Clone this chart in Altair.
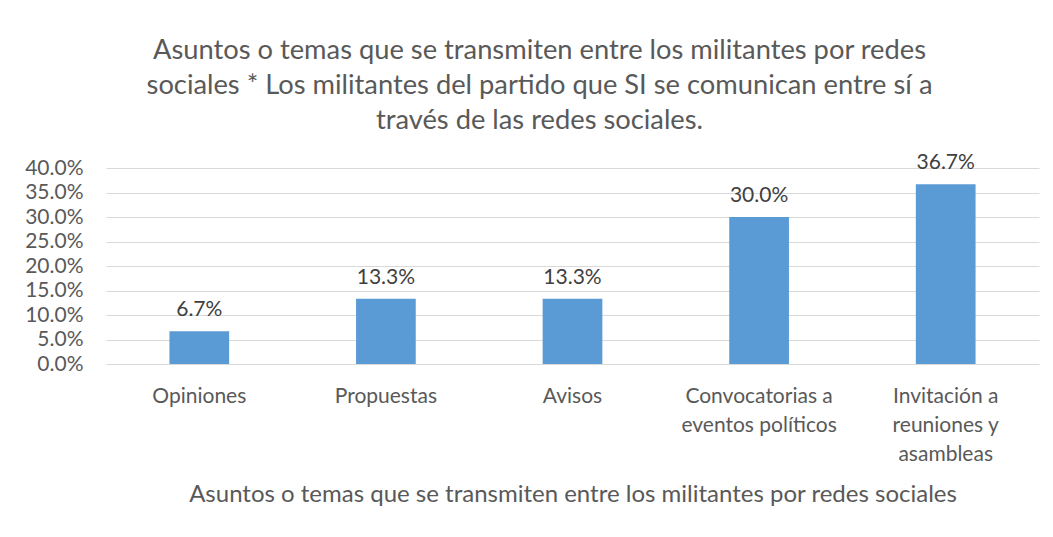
import altair as alt
import pandas as pd

categories = ["Opiniones", "Propuestas", "Avisos",
              "Convocatorias a|eventos políticos",
              "Invitación a|reuniones y|asambleas"]
values = [0.067, 0.133, 0.133, 0.300, 0.367]
y_ticks = [0.0, 0.05, 0.10, 0.15, 0.20, 0.25, 0.30, 0.35, 0.40]
title_lines = ["Asuntos o temas que se transmiten entre los militantes por redes",
               "sociales * Los militantes del partido que SI se comunican entre sí a",
               "través de las redes sociales."]
x_title = "Asuntos o temas que se transmiten entre los militantes por redes sociales"

df = pd.DataFrame({"cat": categories, "val": values})

FONT = "Lato"
GRAY = "#595959"

base = alt.Chart(df).encode(
    x=alt.X("cat:N", sort=None,
            scale=alt.Scale(paddingInner=0.68, paddingOuter=0.34),
            axis=alt.Axis(title=x_title, labelExpr="split(datum.label, '|')",
                          labelAngle=0, labelFontSize=21, labelColor=GRAY,
                          labelLineHeight=29, labelPadding=21, labelFont=FONT,
                          domain=False, ticks=False, grid=False,
                          titleFontSize=24, titleFontWeight="normal",
                          titleColor=GRAY, titleFont=FONT, titlePadding=18)),
    y=alt.Y("val:Q", scale=alt.Scale(domain=[0, 0.4], nice=False),
            axis=alt.Axis(title=None, format=".1%", values=y_ticks,
                          grid=True, gridColor="#D9D9D9", gridWidth=1.2,
                          domain=False, ticks=False, labelPadding=23,
                          labelFontSize=21, labelColor=GRAY, labelFont=FONT)),
)

bars = base.mark_bar(color="#5B9BD5")
labels = base.mark_text(baseline="bottom", dy=-11, fontSize=21,
                        color="#404040", font=FONT).encode(
    text=alt.Text("val:Q", format=".1%"))

chart = (bars + labels).properties(
    width=933, height=196,
    padding={"left": 98, "top": 160, "right": 6, "bottom": 150},
    autosize=alt.AutoSizeParams(type="none"),
    title=alt.TitleParams(text=title_lines, fontSize=27.3, fontWeight="normal",
                          color=GRAY, font=FONT, lineHeight=35,
                          anchor="middle", frame="group", dx=-33, offset=18),
).configure_view(stroke=None)

chart.save("out.html", embed_options={"renderer": "svg", "actions": False})
